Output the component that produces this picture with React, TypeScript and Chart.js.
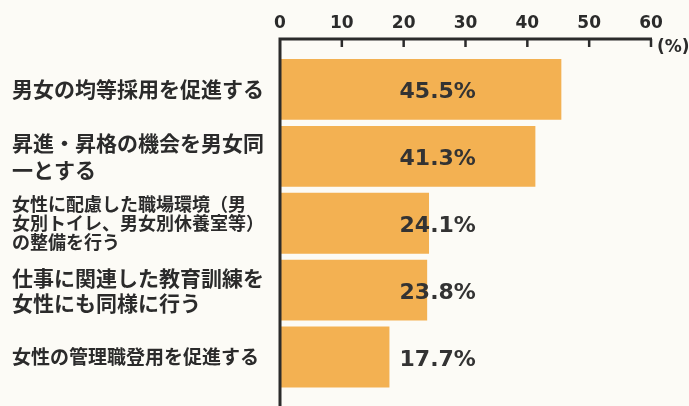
import React, { useEffect, useRef } from "react";
import { Chart, registerables } from "chart.js";

Chart.register(...registerables);

const categories: string[][] = [
  ["男女の均等採用を促進する"],
  ["昇進・昇格の機会を男女同", "一とする"],
  ["女性に配慮した職場環境（男", "女別トイレ、男女別休養室等）", "の整備を行う"],
  ["仕事に関連した教育訓練を", "女性にも同様に行う"],
  ["女性の管理職登用を促進する"],
];
const values: number[] = [45.5, 41.3, 24.1, 23.8, 17.7];
const valueLabels: string[] = ["45.5%", "41.3%", "24.1%", "23.8%", "17.7%"];
const tickValues: number[] = [0, 10, 20, 30, 40, 50, 60];
const unitLabel = "(%)";

const labelFontSizes = [21, 21, 18, 21, 19];
const labelLineHeights = [1.2, 1.29, 1.05, 1.19, 1.2];

const BG = "#FCFBF6";
const BAR = "#F3B152";
const INK = "#2b2b2b";
const AXIS_GAP = 17;

const overlay = {
  id: "overlay",
  afterDatasetsDraw(chart: any) {
    const { ctx, chartArea, scales } = chart;
    const xs = scales.x;
    const axisY = chartArea.top - AXIS_GAP;
    const x0 = xs.getPixelForValue(0);
    const x60 = xs.getPixelForValue(60);
    ctx.save();
    // value labels
    const meta = chart.getDatasetMeta(0);
    ctx.fillStyle = "#333333";
    ctx.font = "bold 22px 'DejaVu Sans'";
    ctx.textAlign = "center";
    ctx.textBaseline = "middle";
    const lx = xs.getPixelForValue(25.5);
    meta.data.forEach((bar: any, i: number) => {
      ctx.fillText(valueLabels[i], lx, bar.y + 3);
    });
    // axes
    ctx.strokeStyle = INK;
    ctx.lineWidth = 3;
    ctx.beginPath();
    ctx.moveTo(x0, chart.height);
    ctx.lineTo(x0, axisY);
    ctx.lineTo(x60 + 1, axisY);
    ctx.stroke();
    ctx.lineWidth = 2.5;
    tickValues.forEach((v) => {
      if (v === 0) return;
      const px = xs.getPixelForValue(v);
      ctx.beginPath();
      ctx.moveTo(px, axisY);
      ctx.lineTo(px, axisY + 8);
      ctx.stroke();
    });
    ctx.fillStyle = INK;
    ctx.font = "bold 17px 'DejaVu Sans'";
    ctx.textAlign = "left";
    ctx.fillText(unitLabel, x60 + 6, axisY + 9);
    ctx.restore();
  },
};

export default function App() {
  const ref = useRef<HTMLCanvasElement>(null);
  useEffect(() => {
    if (!ref.current) return;
    const chart = new Chart(ref.current, {
      type: "bar",
      data: {
        labels: categories,
        datasets: [
          {
            data: values,
            backgroundColor: BAR,
            borderWidth: 0,
            barPercentage: 0.91,
            categoryPercentage: 1,
          },
        ],
      },
      options: {
        indexAxis: "y",
        animation: false,
        responsive: false,
        layout: { padding: { left: 12, right: 38, top: 0, bottom: 14 } },
        plugins: { legend: { display: false }, tooltip: { enabled: false } },
        scales: {
          x: {
            position: "top",
            min: 0,
            max: 60,
            afterBuildTicks: (scale: any) => {
              scale.ticks = tickValues.map((v) => ({ value: v }));
            },
            afterFit: (scale: any) => {
              scale.height = 56;
            },
            grid: { display: false, drawTicks: false, tickLength: 0 },
            border: { display: false },
            ticks: {
              padding: 22,
              color: INK,
              font: { family: "'DejaVu Sans'", size: 17, weight: "bold" },
              maxRotation: 0,
            },
          },
          y: {
            afterFit: (scale: any) => {
              scale.width = 268;
            },
            grid: { display: false, drawTicks: false, tickLength: 0 },
            border: { display: false },
            ticks: {
              crossAlign: "far",
              color: INK,
              autoSkip: false,
              font: (c: any) => ({
                family: "'Noto Sans CJK JP'",
                size: labelFontSizes[c.index] ?? 20,
                weight: "bold",
                lineHeight: labelLineHeights[c.index] ?? 1.2,
              }),
            },
          },
        },
      },
      plugins: [overlay],
    } as any);
    return () => chart.destroy();
  }, []);
  return (
    <div
      style={{
        position: "fixed",
        left: 0,
        top: 0,
        width: 689,
        height: 406,
        background: BG,
      }}
    >
      <canvas ref={ref} width={689} height={406} style={{ display: "block" }} />
    </div>
  );
}
